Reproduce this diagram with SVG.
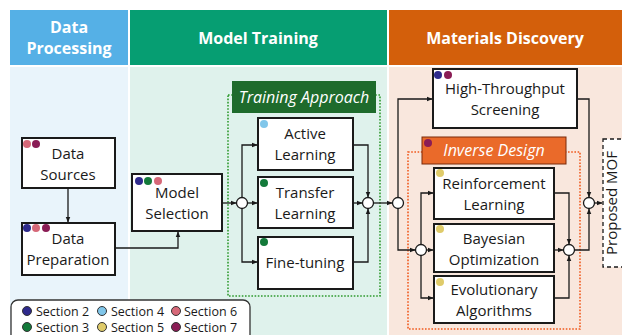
<svg xmlns="http://www.w3.org/2000/svg" width="622" height="335" viewBox="0 0 622 335">
<defs>
<style>
.hd{font-family:"Open Sans","Liberation Sans",sans-serif;font-weight:bold;fill:#fff;font-size:16px;text-anchor:middle}
.bx{fill:#fff;stroke:#1a1a1a;stroke-width:2}
.tx{font-family:"Open Sans","Liberation Sans",sans-serif;font-size:15px;fill:#1a1a1a;text-anchor:middle}
.lg{font-family:"Open Sans","Liberation Sans",sans-serif;font-size:12.5px;fill:#1a1a1a}
.ln{fill:none;stroke:#1a1a1a;stroke-width:1.3}
.jc{fill:#fff;stroke:#1a1a1a;stroke-width:1.3}
.c2{fill:#2e2a8c}.c3{fill:#137a3a}.c4{fill:#80c6ea}.c5{fill:#dfcb6a}.c6{fill:#d66878}.c7{fill:#8a1c55}
.ls{stroke:#333;stroke-width:1}
.it{font-family:"Open Sans","Liberation Sans",sans-serif;font-size:16px;font-style:italic;fill:#fff;text-anchor:middle}
</style>
<marker id="ar" viewBox="0 0 10 10" refX="9" refY="5" markerWidth="6" markerHeight="6" orient="auto-start-reverse" markerUnits="userSpaceOnUse">
<path d="M0,1 L10,5 L0,9 z" fill="#1a1a1a"/>
</marker>
</defs>
<rect width="622" height="335" fill="#fff"/>
<g id="columns">
<rect x="10" y="10" width="118" height="55" fill="#55b0e6"/>
<rect x="130" y="10" width="257" height="55" fill="#069e72"/>
<rect x="389" y="10" width="233" height="55" fill="#d35f0b"/>
<rect x="10" y="67" width="118" height="268" fill="#e9f4fb"/>
<rect x="130" y="67" width="257" height="268" fill="#dff2ec"/>
<rect x="389" y="67" width="233" height="268" fill="#f9e7dd"/>
<text class="hd" x="69" y="33">Data</text>
<text class="hd" x="69" y="54">Processing</text>
<text class="hd" x="258" y="44">Model Training</text>
<text class="hd" x="505" y="44">Materials Discovery</text>
</g>
<g id="training-approach">
<rect x="228" y="95" width="152" height="201" fill="none" stroke="#2f9a2f" stroke-width="1.6" stroke-dasharray="1.6 1.6"/>
<rect x="232" y="81" width="144" height="32" fill="#1e6b2c"/>
<text class="it" x="304" y="103">Training Approach</text>
</g>
<g id="inverse-design">
<rect x="408" y="152" width="172" height="177" fill="none" stroke="#f05a1e" stroke-width="1.6" stroke-dasharray="1.6 1.6"/>
<rect x="422" y="137" width="144" height="27" fill="#ea6a2a" stroke="#7a2a0a" stroke-width="1"/>
<text class="it" x="494" y="156">Inverse Design</text>
<circle class="c7" cx="428" cy="143" r="4"/>
</g>
<g id="connectors">
<path class="ln" d="M68,188 V222" marker-end="url(#ar)"/>
<path class="ln" d="M115,248 H178 V232" marker-end="url(#ar)"/>
<path class="ln" d="M222,203 H236" marker-end="url(#ar)"/>
<path class="ln" d="M242,197.5 V145 H257" marker-end="url(#ar)"/>
<path class="ln" d="M247.5,203 H257" marker-end="url(#ar)"/>
<path class="ln" d="M242,208.5 V262 H257" marker-end="url(#ar)"/>
<path class="ln" d="M353,145 H368 V197" marker-end="url(#ar)"/>
<path class="ln" d="M353,203 H362" marker-end="url(#ar)"/>
<path class="ln" d="M353,262 H368 V209" marker-end="url(#ar)"/>
<path class="ln" d="M373.5,203 H392" marker-end="url(#ar)"/>
<path class="ln" d="M398,197.5 V99 H432" marker-end="url(#ar)"/>
<path class="ln" d="M398,208.5 V250 H415" marker-end="url(#ar)"/>
<path class="ln" d="M421,244.5 V193 H433" marker-end="url(#ar)"/>
<path class="ln" d="M426.5,250 H433" marker-end="url(#ar)"/>
<path class="ln" d="M421,255.5 V298 H433" marker-end="url(#ar)"/>
<path class="ln" d="M554,193 H569 V244" marker-end="url(#ar)"/>
<path class="ln" d="M554,250 H563" marker-end="url(#ar)"/>
<path class="ln" d="M554,298 H569 V256" marker-end="url(#ar)"/>
<path class="ln" d="M574.5,250 H589 V209" marker-end="url(#ar)"/>
<path class="ln" d="M577,99 H589 V197" marker-end="url(#ar)"/>
<path class="ln" d="M594.5,203 H602" marker-end="url(#ar)"/>
<circle class="jc" cx="242" cy="203" r="5.5"/>
<circle class="jc" cx="368" cy="203" r="5.5"/>
<circle class="jc" cx="398" cy="203" r="5.5"/>
<circle class="jc" cx="421" cy="250" r="5.5"/>
<circle class="jc" cx="569" cy="250" r="5.5"/>
<circle class="jc" cx="589" cy="203" r="5.5"/>
</g>
<g id="data-sources">
<rect class="bx" x="22" y="138" width="93" height="50"/>
<circle class="c6" cx="27" cy="144" r="4"/><circle class="c7" cx="36" cy="144" r="4"/>
<text class="tx" x="68" y="159">Data</text>
<text class="tx" x="68" y="180">Sources</text>
</g>
<g id="data-preparation">
<rect class="bx" x="22" y="223" width="93" height="52"/>
<circle class="c2" cx="27" cy="228" r="4"/><circle class="c6" cx="36" cy="228" r="4"/><circle class="c7" cx="46" cy="228" r="4"/>
<text class="tx" x="68" y="244">Data</text>
<text class="tx" x="68" y="265">Preparation</text>
</g>
<g id="model-selection">
<rect class="bx" x="132" y="174" width="90" height="57"/>
<circle class="c2" cx="139" cy="181" r="4"/><circle class="c3" cx="148" cy="181" r="4"/><circle class="c6" cx="158" cy="181" r="4"/>
<text class="tx" x="177" y="198">Model</text>
<text class="tx" x="177" y="219">Selection</text>
</g>
<g id="active-learning">
<rect class="bx" x="258" y="118" width="95" height="52"/>
<circle class="c4" cx="264" cy="124" r="4"/>
<text class="tx" x="305" y="139">Active</text>
<text class="tx" x="305" y="160">Learning</text>
</g>
<g id="transfer-learning">
<rect class="bx" x="258" y="177" width="95" height="51"/>
<circle class="c3" cx="264" cy="183" r="4"/>
<text class="tx" x="305" y="198">Transfer</text>
<text class="tx" x="305" y="219">Learning</text>
</g>
<g id="fine-tuning">
<rect class="bx" x="258" y="237" width="95" height="52"/>
<circle class="c3" cx="264" cy="242" r="4"/>
<text class="tx" x="305" y="268">Fine-tuning</text>
</g>
<g id="high-throughput-screening">
<rect class="bx" x="433" y="69" width="144" height="59"/>
<circle class="c2" cx="438" cy="75" r="4"/><circle class="c7" cx="448" cy="75" r="4"/>
<text class="tx" x="505" y="94">High-Throughput</text>
<text class="tx" x="505" y="115">Screening</text>
</g>
<g id="reinforcement-learning">
<rect class="bx" x="434" y="168" width="120" height="51"/>
<circle class="c5" cx="440" cy="173" r="4"/>
<text class="tx" x="494" y="189">Reinforcement</text>
<text class="tx" x="494" y="210">Learning</text>
</g>
<g id="bayesian-optimization">
<rect class="bx" x="434" y="224" width="120" height="48"/>
<circle class="c5" cx="440" cy="229" r="4"/>
<text class="tx" x="494" y="244">Bayesian</text>
<text class="tx" x="494" y="265">Optimization</text>
</g>
<g id="evolutionary-algorithms">
<rect class="bx" x="434" y="276" width="120" height="47"/>
<circle class="c5" cx="440" cy="282" r="4"/>
<text class="tx" x="494" y="295">Evolutionary</text>
<text class="tx" x="494" y="316">Algorithms</text>
</g>
<g id="proposed-mof">
<rect x="603" y="139" width="24" height="128" fill="#fff" stroke="#1a1a1a" stroke-width="1.3" stroke-dasharray="4 3"/>
<text class="tx" transform="translate(617,203) rotate(-90)" x="0" y="0">Proposed MOF</text>
</g>
<g id="legend">
<rect x="11" y="300" width="239" height="45" rx="7" fill="#fff" stroke="#333" stroke-width="1.3"/>
<circle class="c2 ls" cx="27" cy="311" r="4.5"/><text class="lg" x="36" y="315.5">Section 2</text>
<circle class="c3 ls" cx="27" cy="327" r="4.5"/><text class="lg" x="36" y="331.5">Section 3</text>
<circle class="c4 ls" cx="102" cy="311" r="4.5"/><text class="lg" x="111" y="315.5">Section 4</text>
<circle class="c5 ls" cx="102" cy="327" r="4.5"/><text class="lg" x="111" y="331.5">Section 5</text>
<circle class="c6 ls" cx="176" cy="311" r="4.5"/><text class="lg" x="184" y="315.5">Section 6</text>
<circle class="c7 ls" cx="176" cy="327" r="4.5"/><text class="lg" x="184" y="331.5">Section 7</text>
</g>
</svg>
